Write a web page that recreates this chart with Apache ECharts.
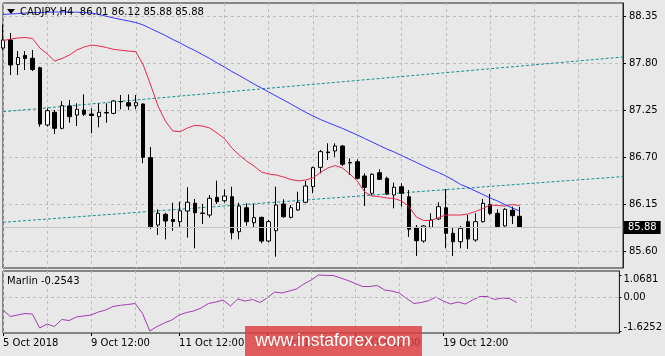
<!DOCTYPE html>
<html><head><meta charset="utf-8">
<script src="https://cdn.jsdelivr.net/npm/echarts@6/dist/echarts.min.js"></script>
<style>html,body{margin:0;padding:0;background:#e8e8e8}#c{width:665px;height:356px}</style>
</head><body><div id="c"></div>
<script>
const symbolName = 'CADJPY,H4';
const lastBar = [86.01, 86.12, 85.88, 85.88]; // O H L C
const indicatorName = 'Marlin';
const slotCount = 85;
const tickIndex = [0, 12, 24, 36, 48, 60];
const tickLabels = ['5 Oct 2018', '9 Oct 12:00', '11 Oct 12:00', '15 Oct 12:00', '17 Oct 12:00', '19 Oct 12:00'];
const priceTicks = [85.60, 86.15, 86.70, 87.25, 87.80, 88.35];
const marlinTicks = [1.0681, 0, -1.6252];

const opens  = [87.976,88.070,87.783,87.889,87.856,87.746,87.077,87.225,87.038,87.299,87.193,87.252,87.205,87.174,87.223,87.213,87.351,87.337,87.302,87.322,86.695,85.908,86.033,85.973,85.947,86.072,86.162,86.049,86.025,86.232,86.192,86.239,85.830,86.110,85.935,85.998,85.721,85.842,86.154,85.998,86.084,86.174,86.356,86.582,86.761,86.773,86.831,86.639,86.648,86.481,86.279,86.519,86.454,86.259,86.356,86.239,85.881,85.721,85.881,85.979,86.110,85.811,85.713,85.947,85.733,85.947,86.148,86.045,85.897,86.080,86.01];
const closes = [88.070,87.778,87.865,87.853,87.725,87.088,87.244,87.038,87.302,87.174,87.260,87.202,87.188,87.225,87.217,87.357,87.348,87.299,87.337,86.699,85.885,86.045,85.955,85.949,86.075,86.174,86.052,86.043,86.220,86.181,86.247,85.818,86.130,85.947,85.994,85.721,85.947,86.142,86.005,86.110,86.174,86.364,86.578,86.765,86.754,86.831,86.618,86.633,86.454,86.349,86.501,86.442,86.271,86.349,86.279,85.858,85.725,85.897,85.967,86.122,85.811,85.713,85.870,85.745,85.947,86.162,86.045,85.889,86.092,86.017,85.88];
const lows   = [87.953,87.661,87.661,87.719,87.707,87.057,87.057,86.971,87.027,87.103,87.065,87.182,86.980,87.050,87.103,87.202,87.260,87.252,87.260,86.629,85.862,85.792,85.741,85.842,85.889,85.760,85.636,85.920,85.994,86.154,86.169,85.741,85.741,85.900,85.877,85.695,85.706,85.538,85.994,85.986,86.072,86.162,86.279,86.512,86.668,86.706,86.598,86.493,86.442,86.130,86.259,86.434,86.259,86.103,86.122,85.768,85.546,85.702,85.870,85.967,85.636,85.546,85.636,85.628,85.713,85.938,86.025,85.877,85.889,85.920,85.88];
const highs  = [88.250,88.151,87.941,87.941,87.953,87.758,87.272,87.252,87.357,87.369,87.330,87.435,87.272,87.330,87.330,87.369,87.427,87.435,87.427,87.330,86.820,86.092,86.052,86.169,86.181,86.349,86.212,86.154,86.259,86.426,86.325,86.356,86.169,86.162,86.154,86.005,85.967,86.356,86.209,86.142,86.297,86.426,86.590,86.785,86.863,86.863,86.843,86.688,86.676,86.512,86.512,86.559,86.473,86.403,86.396,86.317,85.908,85.908,86.045,86.174,86.329,85.879,85.897,86.025,86.045,86.212,86.271,86.092,86.104,86.124,86.12];

const maFast = [88.061,88.081,88.093,88.099,88.087,87.976,87.906,87.824,87.854,87.894,87.953,87.988,88.011,88.000,87.982,87.960,87.950,87.941,87.933,87.778,87.544,87.299,87.123,87.007,86.998,87.042,87.073,87.065,87.042,86.983,86.919,86.808,86.726,86.656,86.598,86.528,86.504,86.493,86.469,86.440,86.423,86.434,86.458,86.522,86.574,86.604,86.574,86.504,86.423,86.294,86.247,86.239,86.224,86.218,86.189,86.125,86.002,85.961,85.961,85.996,86.025,86.025,86.025,86.037,86.066,86.101,86.142,86.136,86.130,86.148,86.136];
const maSlow = [88.368,88.373,88.379,88.385,88.389,88.392,88.394,88.397,88.397,88.397,88.394,88.390,88.385,88.368,88.347,88.327,88.309,88.292,88.274,88.245,88.204,88.163,88.122,88.076,88.035,87.988,87.947,87.900,87.854,87.801,87.754,87.702,87.655,87.606,87.556,87.509,87.462,87.415,87.369,87.322,87.273,87.225,87.182,87.141,87.106,87.071,87.036,86.998,86.960,86.919,86.878,86.837,86.796,86.761,86.720,86.680,86.639,86.598,86.557,86.522,86.481,86.434,86.382,86.347,86.306,86.265,86.224,86.189,86.148,86.107,86.072];
const trendUpper = [87.232, 87.871]; // value at first and last slot
const trendLower = [85.940, 86.474];
const marlin = [-0.615,-0.928,-0.856,-0.784,-0.808,-1.481,-1.289,-1.409,-1.072,-1.121,-0.952,-0.904,-0.856,-0.712,-0.615,-0.447,-0.389,-0.351,-0.303,-0.774,-1.6252,-1.409,-1.241,-1.097,-0.856,-0.736,-0.664,-0.519,-0.303,-0.231,-0.135,-0.423,-0.086,-0.183,-0.110,-0.255,-0.038,0.250,0.202,0.298,0.395,0.635,0.827,1.0681,1.050,1.044,0.924,0.803,0.659,0.515,0.515,0.563,0.346,0.298,0.202,-0.062,-0.303,-0.255,-0.168,0.010,-0.183,-0.327,-0.231,-0.327,-0.135,0.034,0.034,-0.110,-0.038,-0.062,-0.2543];

const categories = Array.from({length: slotCount}, (_, i) => String(i));
const candleData = opens.map((o, i) => [o, closes[i], lows[i], highs[i]]);
const trendLine = (ends) => categories.map((_, i) => i === 0 ? ends[0] : (i === slotCount - 1 ? ends[1] : null));

const FONT = 'DejaVu Sans';
const txt = {fontFamily: FONT, fontSize: 10, color: '#000'};
const dayLine = (i) => i % 6 === 0;
const gridSplit = {show: true, interval: dayLine, lineStyle: {color: '#bdbdbd', type: [3, 3], width: 1}};

const chart = echarts.init(document.getElementById('c'), null, {renderer: 'canvas'});
chart.setOption({
  animation: false,
  backgroundColor: '#e8e8e8',
  title: [
    {text: symbolName + '  ' + lastBar.map(v => v.toFixed(2)).join(' '), left: 20, top: 7, padding: 0,
     textStyle: Object.assign({fontWeight: 'normal'}, txt)},
    {text: indicatorName + ' ' + marlin[marlin.length - 1].toFixed(4), left: 7, top: 276, padding: 0,
     textStyle: Object.assign({fontWeight: 'normal'}, txt)}
  ],
  grid: [
    {left: 3, right: 42, top: 3, height: 265, show: true, borderColor: '#222', borderWidth: 1, backgroundColor: '#e8e8e8'},
    {left: 3, right: 42, top: 271, height: 62, show: true, borderColor: '#222', borderWidth: 1, backgroundColor: '#e8e8e8'}
  ],
  xAxis: [
    {type: 'category', gridIndex: 0, data: categories, boundaryGap: false,
     axisLine: {show: false, onZero: false}, axisTick: {show: false}, axisLabel: {show: false}, splitLine: gridSplit},
    {type: 'category', gridIndex: 1, data: categories, boundaryGap: false, position: 'bottom',
     axisLine: {show: false, onZero: false},
     axisTick: {show: true, interval: (i) => tickIndex.includes(i), length: 3, lineStyle: {color: '#000'}},
     axisLabel: Object.assign({interval: (i) => tickIndex.includes(i), align: 'left', margin: 5,
       formatter: (v, i) => tickLabels[tickIndex.indexOf(i)] || ''}, txt),
     splitLine: gridSplit}
  ],
  yAxis: [
    {type: 'value', gridIndex: 0, position: 'right', min: 85.406, max: 88.502,
     axisLine: {show: true, lineStyle: {color: '#222'}},
     axisTick: {show: true, length: 3, customValues: priceTicks, lineStyle: {color: '#000'}},
     axisLabel: Object.assign({customValues: priceTicks, margin: 6, formatter: v => v.toFixed(2)}, txt),
     splitLine: {show: true, lineStyle: {color: '#bdbdbd', type: [3, 3], width: 1}}},
    {type: 'value', gridIndex: 1, position: 'right', min: -1.7214, max: 1.2605,
     axisLine: {show: true, lineStyle: {color: '#222'}},
     axisTick: {show: true, length: 2, customValues: marlinTicks, lineStyle: {color: '#000'}},
     axisLabel: Object.assign({customValues: marlinTicks, margin: 4,
       formatter: v => v > 0 ? '{t|' + v.toFixed(4) + '}' : (v < 0 ? '{b|' + v.toFixed(4) + '}' : v.toFixed(2)),
       rich: {t: {padding: [8, 0, 0, 0], fontFamily: FONT, fontSize: 10, color: '#000'},
              b: {padding: [0, 0, 8, 0], fontFamily: FONT, fontSize: 10, color: '#000'}}}, txt),
     splitLine: {show: false}}
  ],
  graphic: [
    {type: 'polygon', shape: {points: [[7, 9], [15, 9], [11, 14]]}, style: {fill: '#000'}, z: 100},
    {type: 'rect', shape: {x: 245, y: 326, width: 177, height: 30}, style: {fill: 'rgba(222,60,60,0.82)'}, z: 100},
    {type: 'text', x: 333, y: 341, z: 101,
     style: {text: 'www.instaforex.com', fill: '#fff', font: '17.5px "Liberation Sans", Arial, sans-serif', align: 'center', verticalAlign: 'middle'}}
  ],
  series: [
    {type: 'line', xAxisIndex: 0, yAxisIndex: 0, data: trendLine(trendUpper), connectNulls: true, showSymbol: false, symbol: 'none',
     lineStyle: {color: '#15928f', width: 1, type: [3, 2]}, z: 1},
    {type: 'line', xAxisIndex: 0, yAxisIndex: 0, data: trendLine(trendLower), connectNulls: true, showSymbol: false, symbol: 'none',
     lineStyle: {color: '#15928f', width: 1, type: [3, 2]}, z: 1,
     markLine: {silent: true, symbol: ['none', 'none'], data: [{yAxis: lastBar[3]}],
       lineStyle: {color: '#c4c4c4', width: 1, type: 'solid'},
       label: {show: true, position: 'end', distance: 1, formatter: () => lastBar[3].toFixed(2),
         backgroundColor: '#000', color: '#fff', padding: [2, 4, 1, 4], fontFamily: FONT, fontSize: 10}}},
    {type: 'candlestick', xAxisIndex: 0, yAxisIndex: 0, data: candleData, barWidth: 4,
     itemStyle: {color: '#ffffff', color0: '#000000', borderColor: '#000000', borderColor0: '#000000', borderWidth: 1}, z: 3},
    {type: 'line', xAxisIndex: 0, yAxisIndex: 0, data: maFast, showSymbol: false, symbol: 'none',
     lineStyle: {color: '#e8284e', width: 1}, z: 4},
    {type: 'line', xAxisIndex: 0, yAxisIndex: 0, data: maSlow, showSymbol: false, symbol: 'none',
     lineStyle: {color: '#3636ff', width: 1}, z: 4},
    {type: 'line', xAxisIndex: 1, yAxisIndex: 1, data: marlin, showSymbol: false, symbol: 'none',
     lineStyle: {color: '#a23cb2', width: 1}, z: 4,
     markLine: {silent: true, symbol: ['none', 'none'], data: [{yAxis: 0}], label: {show: false},
       lineStyle: {color: '#bdbdbd', width: 1, type: [3, 3]}}}
  ]
});
</script></body></html>
